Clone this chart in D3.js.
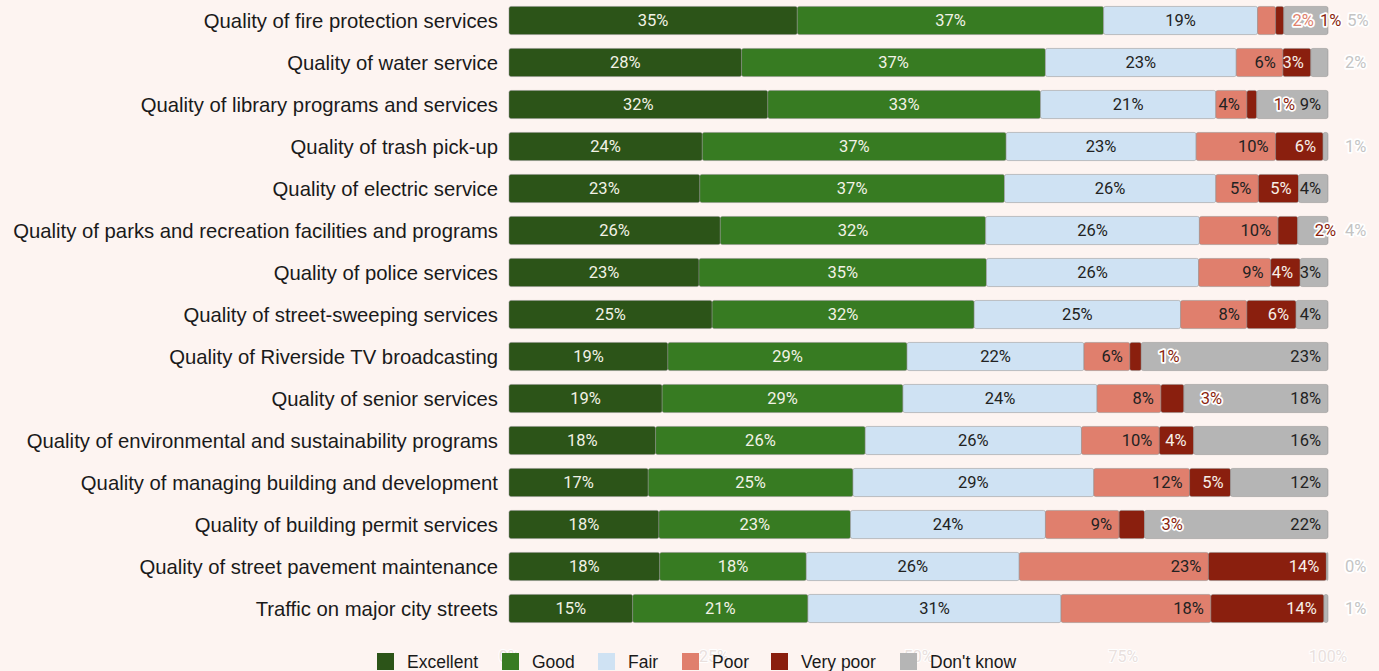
<!DOCTYPE html>
<html lang="en">
<head>
<meta charset="UTF-8">
<title>City services ratings</title>
<script src="https://d3js.org/d3.v7.min.js"></script>
<style>
  body { margin: 0; background: #fdf4f1; }
  .cat { font-family: "Liberation Sans", Arial, sans-serif; font-size: 20.3px; fill: #1a1a1a; }
  .lab { font-family: Roboto, sans-serif; font-size: 16.5px; }
  .tick-lab { font-family: Roboto, sans-serif; font-size: 16px; fill: #e9e0dd; stroke: #ffffff; stroke-width: 2px; paint-order: stroke; }
  .leg { font-family: "Liberation Sans", Arial, sans-serif; font-size: 17.5px; fill: #1a1a1a; }
</style>
</head>
<body>
<svg id="chart" width="1379" height="671"></svg>
<script>
// categories, top to bottom
const services = [
  "Quality of fire protection services",
  "Quality of water service",
  "Quality of library programs and services",
  "Quality of trash pick-up",
  "Quality of electric service",
  "Quality of parks and recreation facilities and programs",
  "Quality of police services",
  "Quality of street-sweeping services",
  "Quality of Riverside TV broadcasting",
  "Quality of senior services",
  "Quality of environmental and sustainability programs",
  "Quality of managing building and development",
  "Quality of building permit services",
  "Quality of street pavement maintenance",
  "Traffic on major city streets"
];
const ratings = ["Excellent", "Good", "Fair", "Poor", "Very poor", "Don't know"];
const colors = ["#2c5418", "#377b22", "#cfe2f3", "#e07f6d", "#8a1f0e", "#b5b5b5"];
const textColors = ["#f2f2e6", "#f2f2e6", "#222222", "#222222", "#f7efe8", "#222222"];

// percentages per rating, same order as services
const excellent = [35.2, 28.4, 31.6, 23.6, 23.3, 25.8, 23.2, 24.8, 19.4, 18.7, 17.9, 17.0, 18.3, 18.4, 15.1];
const good      = [37.4, 37.1, 33.3, 37.1, 37.2, 32.4, 35.1, 32.0, 29.2, 29.4, 25.6, 25.0, 23.4, 17.9, 21.4];
const fair      = [18.8, 23.3, 21.4, 23.2, 25.8, 26.1, 25.9, 25.2, 21.6, 23.7, 26.4, 29.4, 23.8, 26.0, 30.9];
const poor      = [ 2.2,  5.7,  3.8,  9.7,  5.2,  9.6,  8.8,  8.1,  5.6,  7.8,  9.5, 11.7,  9.0, 23.1, 18.3];
const veryPoor  = [ 1.0,  3.4,  1.2,  5.8,  4.9,  2.4,  3.6,  6.0,  1.4,  2.8,  4.2,  5.0,  3.1, 14.4, 13.8];
const dontKnow  = [ 5.4,  2.1,  8.7,  0.6,  3.6,  3.7,  3.4,  3.9, 22.8, 17.6, 16.4, 11.9, 22.4,  0.2,  0.5];
const series = [excellent, good, fair, poor, veryPoor, dontKnow];

const xTicks = [0, 25, 50, 75, 100];

const svg = d3.select("#chart");
svg.append("rect").attr("width", 1379).attr("height", 671).attr("fill", "#fdf4f1");

const x = d3.scaleLinear().domain([0, 100]).range([509, 1328]);
const y = d3.scaleBand().domain(services).range([-0.5, 629.5])
  .paddingInner(0.33).paddingOuter(0.165);

// axis tick labels (faint, sit under legend)
svg.append("g").selectAll("text")
  .data(xTicks).join("text")
  .attr("class", "tick-lab")
  .attr("x", d => x(d))
  .attr("y", 662)
  .attr("text-anchor", "middle")
  .text(d => d + "%");

// category labels
svg.append("g").selectAll("text")
  .data(services).join("text")
  .attr("class", "cat")
  .attr("x", 498)
  .attr("y", d => y(d) + y.bandwidth() / 2)
  .attr("dy", "0.35em")
  .attr("text-anchor", "end")
  .text(d => d);

// build stacked rows
const rows = services.map((s, i) => {
  let acc = 0;
  const segs = series.map((arr, k) => {
    const v = arr[i];
    const seg = { service: s, k, v, x0: acc, x1: acc + v };
    acc += v;
    return seg;
  });
  return { service: s, segs };
});

const bars = svg.append("g");
rows.forEach(r => {
  bars.selectAll(null)
    .data(r.segs).join("rect")
    .attr("x", d => x(d.x0))
    .attr("y", y(r.service))
    .attr("width", d => Math.max(0.8, x(d.x1) - x(d.x0)))
    .attr("height", y.bandwidth())
    .attr("rx", 2)
    .attr("fill", d => colors[d.k])
    .attr("stroke", "#8c8c8c")
    .attr("stroke-opacity", 0.7)
    .attr("stroke-width", 0.7);
});

// label placement: small segments pushed to the right with a halo
const ctx = document.createElement("canvas").getContext("2d");
ctx.font = "16.5px Roboto";
const tw = t => ctx.measureText(t).width;

const labels = [];
rows.forEach(r => {
  let lastRight = -Infinity;
  r.segs.forEach(d => {
    const txt = Math.round(d.v) + "%";
    const w = tw(txt);
    const px0 = x(d.x0), px1 = x(d.x1);
    const segW = px1 - px0;
    let left;
    let out = segW < 27;
    if (!out) {
      left = d.k < 3 ? (px0 + px1) / 2 - w / 2 : px1 - 7 - w;
      if (left < lastRight - 3) out = true;
    }
    if (out) {
      left = Math.max(px1 + 17, lastRight + 6);
      lastRight = left + w;
    }
    labels.push({ service: r.service, k: d.k, txt, left, out });
  });
});

svg.append("g").selectAll("text")
  .data(labels).join("text")
  .attr("class", "lab")
  .attr("x", d => d.left)
  .attr("y", d => y(d.service) + y.bandwidth() / 2)
  .attr("dy", "0.36em")
  .attr("fill", d => d.out ? (d.k === 5 ? "#c4c4c4" : colors[d.k]) : textColors[d.k])
  .attr("stroke", d => d.out ? "#ffffff" : "none")
  .attr("stroke-width", d => d.out ? 3.5 : 0)
  .attr("stroke-linejoin", "round")
  .attr("paint-order", "stroke")
  .text(d => d.txt);

// legend
const legX = [377, 502, 598, 682, 771, 900];
const leg = svg.append("g").selectAll("g")
  .data(ratings).join("g")
  .attr("transform", (d, i) => `translate(${legX[i]},653)`);
leg.append("rect").attr("width", 17).attr("height", 17).attr("fill", (d, i) => colors[i]);
leg.append("text").attr("class", "leg").attr("x", 30).attr("y", 9).attr("dy", "0.36em").text(d => d);
</script>
</body>
</html>
